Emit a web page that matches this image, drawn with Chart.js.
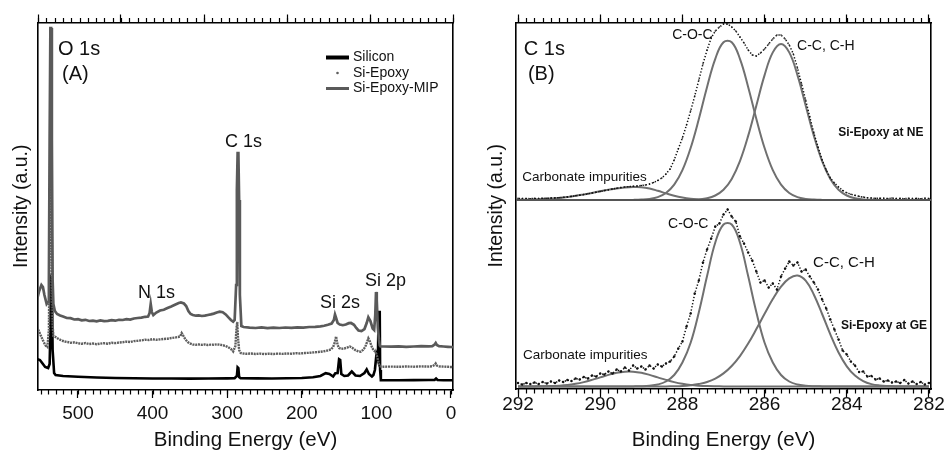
<!DOCTYPE html>
<html>
<head>
<meta charset="utf-8">
<script src="https://cdn.jsdelivr.net/npm/chart.js@4.4.1/dist/chart.umd.min.js"></script>
<style>
  body { margin: 0; background: #fff; width: 946px; height: 451px; overflow: hidden; position: relative; }
  #panelA { position: absolute; left: 0; top: 0; }
  #panelB { position: absolute; left: 476px; top: 0; }
</style>
</head>
<body>
<canvas id="panelA" width="470" height="451"></canvas>
<canvas id="panelB" width="470" height="451"></canvas>
<script>
// (A) survey spectra, binding energy (eV) / intensity (a.u.)
const siliconE = [555, 551, 548, 544, 540, 538, 537, 536, 535, 534,
  532, 530, 520, 500, 475, 450, 425, 400, 375, 350,
  325, 300, 290, 287, 286, 285, 284, 282, 260, 240,
  220, 200, 185, 175, 168, 163, 158, 155, 152, 150,
  148.5, 147, 143, 138, 133, 128, 122, 116, 113, 110,
  106, 104, 102, 100, 98, 97, 95.5, 95, 94, 90,
  70, 50, 30, 22, 20, 18, 10, 0, -3]
const siliconI = [31, 30, 27, 23, 22, 26, 60, 110, 108, 40,
  17, 15, 14, 13.3, 12.5, 12, 11.8, 11.5, 11.5, 11.4,
  11.5, 11.6, 11.8, 14, 22.7, 22, 13, 11.7, 11.6, 11.5,
  11.8, 12, 12.8, 14, 16.8, 16, 13.5, 16.7, 17, 30.7,
  30, 16, 14, 14.5, 18.5, 14.5, 14, 17, 20.5, 16,
  13.5, 15, 20, 35, 30, 78, 78, 20, 9.8, 9.8,
  9.8, 9.9, 10, 10, 11.5, 10, 9.8, 9.8, 9.8]

const epoxyE = [555, 552, 549, 546, 543, 541, 539, 538, 537, 536,
  535, 534, 533, 530, 526, 522, 518, 514, 510, 505,
  500, 495, 490, 485, 480, 475, 470, 465, 460, 455,
  450, 445, 440, 435, 430, 425, 420, 415, 410, 405,
  400, 395, 390, 385, 380, 375, 370, 366, 363, 361,
  359, 356, 353, 350, 346, 342, 338, 334, 330, 326,
  322, 318, 314, 310, 306, 302, 298, 295, 292, 289,
  287.5, 286.5, 285.5, 284, 282, 280, 274, 268, 262, 256,
  250, 244, 238, 232, 226, 220, 214, 208, 202, 196,
  190, 184, 178, 172, 166, 161, 158, 156, 154, 152,
  150, 147, 143, 139, 135.5, 132, 128, 124, 121, 118,
  115, 112.5, 110.8, 109, 106, 104, 102, 100, 98.5, 97,
  95.5, 94, 90, 80, 70, 60, 50, 40, 30, 25,
  22, 20.5, 19, 16, 10, 4, 0, -3]
const epoxyI = [63, 58, 53, 48, 44, 43, 60, 150, 260, 260,
  150, 65, 54, 53, 51, 49.5, 48.5, 48, 47.2, 47.6,
  46.8, 46.2, 46.9, 46, 46.5, 45.8, 46.4, 46.8, 46.3, 47.2,
  46.9, 47.5, 47.8, 48.4, 48, 48.9, 49.2, 49.6, 50.3, 50,
  50.8, 50.2, 50.6, 51, 51.3, 52, 52.4, 53, 53.6, 57,
  54.5, 50.5, 48, 46.5, 45.5, 45.2, 45.6, 45.1, 45.5, 45,
  45.4, 45.2, 45.6, 45.3, 44.8, 44, 42.5, 41, 38.5, 44,
  62, 68, 52, 40, 37, 36.6, 36.2, 36.5, 36, 36.4,
  35.9, 36.3, 36, 36.4, 36.1, 36.5, 36.3, 36.8, 36.5, 37,
  37.2, 37.6, 38, 38.5, 39.4, 40.5, 43, 47, 53.5, 45,
  42, 41.2, 41.5, 42.5, 43.5, 42, 39.8, 38.5, 38.3, 40,
  43, 48, 51.7, 49, 43, 40, 38.5, 36, 32, 27,
  24, 23.4, 23.3, 23.4, 23.2, 23.5, 23.3, 23.6, 23.4, 23.8,
  25, 26.5, 24.5, 23.6, 23.4, 23.2, 23, 23]

const mipE = [555, 552, 549, 547, 545, 542, 540, 539, 538, 537,
  536, 535, 534, 533, 531, 528, 524, 520, 515, 510,
  505, 500, 495, 490, 485, 480, 475, 470, 465, 460,
  455, 450, 445, 440, 435, 430, 425, 420, 415, 410,
  406, 404, 402.5, 401, 399, 395, 390, 385, 380, 375,
  370, 365, 362, 358, 355, 352, 349, 346, 342, 338,
  334, 330, 326, 322, 318, 314, 310, 306, 302, 298,
  295, 292, 290, 288, 287, 286, 285, 284, 283, 281,
  278, 270, 262, 254, 246, 238, 230, 222, 214, 206,
  198, 190, 182, 175, 170, 165, 160, 157, 155.5, 154,
  152, 149, 145, 141, 137, 134, 130, 127, 124, 120,
  116, 113, 110.8, 108, 105, 103, 101.5, 100.5, 99.5, 98,
  96.5, 95.5, 94.5, 90, 80, 70, 60, 50, 40, 30,
  25, 22, 20.5, 19, 16, 10, 4, 0, -3]
const mipI = [90, 99, 105, 103, 95, 86, 88, 110, 250, 362,
  362, 250, 110, 86, 79, 76, 74.5, 73.5, 72, 71.8,
  70.5, 70.8, 69.6, 70.2, 69, 69.4, 68.6, 69.5, 68.8, 69.2,
  69.8, 69.3, 70.2, 70, 70.8, 70.4, 71.5, 72, 72.4, 73.2,
  73.5, 77, 86, 78, 75, 77.5, 79.5, 80.3, 82, 83.5,
  85.2, 87, 87.6, 86.5, 84, 79, 76, 75, 74.3, 74.6,
  74, 74.4, 75, 75.6, 76.4, 77.5, 78.4, 77.8, 75.6, 72.3,
  70, 68.3, 70, 105, 200, 237, 237, 190, 95, 64,
  63, 62.4, 62, 62.6, 61.8, 62.3, 62, 62.5, 62.1, 62.7,
  62.4, 63, 63.2, 63.6, 64.2, 65.3, 66.5, 70, 75.5, 72,
  67, 65.5, 64.8, 65.5, 66.8, 67, 65.2, 62, 59.5, 59,
  61, 67, 72.7, 69, 61.5, 60, 75, 98, 90, 62,
  50, 44.5, 43.6, 43.5, 43.3, 43.6, 43.2, 43.5, 43.8, 43.6,
  43.9, 45.5, 47, 45, 43.8, 43.5, 43.2, 43, 42.8]

// (B) C 1s region: fitted components on a 0.2 eV grid
const fitE = [282.0, 282.2, 282.4, 282.6, 282.8, 283.0, 283.2, 283.4, 283.6, 283.8,
  284.0, 284.2, 284.4, 284.6, 284.8, 285.0, 285.2, 285.4, 285.6, 285.8,
  286.0, 286.2, 286.4, 286.6, 286.8, 287.0, 287.2, 287.4, 287.6, 287.8,
  288.0, 288.2, 288.4, 288.6, 288.8, 289.0, 289.2, 289.4, 289.6, 289.8,
  290.0, 290.2, 290.4, 290.6, 290.8, 291.0, 291.2, 291.4, 291.6, 291.8, 292.0]
// Si-Epoxy at NE
const cocNE = [0, 0, 0, 0, 0, 0, 0, 0, 0, 0,
  0, 0, 0, 0.1, 0.4, 1.1, 2.9, 7.0, 15.3, 29.8,
  52.0, 81.0, 113.1, 141.2, 157.8, 157.8, 141.2, 113.1, 81.0, 52.0,
  29.8, 15.3, 7.0, 2.9, 1.1, 0.4, 0.1, 0, 0, 0,
  0, 0, 0, 0, 0, 0, 0, 0, 0, 0, 0]
const ccNE = [0, 0, 0, 0, 0, 0, 0, 0.2, 0.6, 1.7,
  4.5, 10.2, 21.1, 38.9, 64.1, 94.6, 124.9, 147.6, 156, 147.6,
  124.9, 94.6, 64.1, 38.9, 21.1, 10.2, 4.5, 1.7, 0.6, 0.2,
  0, 0, 0, 0, 0, 0, 0, 0, 0, 0,
  0, 0, 0, 0, 0, 0, 0, 0, 0, 0, 0]
const carbNE = [0, 0, 0, 0, 0, 0, 0, 0, 0, 0,
  0, 0, 0, 0, 0, 0, 0, 0, 0, 0,
  0, 0, 0, 0, 0, 0, 0, 0.2, 0.6, 1.2,
  2.4, 4.2, 6.6, 9.2, 11.5, 12.8, 12.9, 12.4, 11.5, 10.2,
  8.7, 7.1, 5.6, 4.2, 3.1, 2.1, 1.4, 0.9, 0.6, 0.3, 0.2]
// Si-Epoxy at GE
const cocGE = [0, 0, 0, 0, 0, 0, 0, 0, 0, 0,
  0, 0, 0, 0.1, 0.3, 0.8, 2, 5, 11.5, 24,
  43.8, 74.3, 110.4, 144, 162, 162, 144, 110.4, 74.3, 43.8,
  24, 11.5, 5, 2, 0.8, 0.3, 0.1, 0, 0, 0,
  0, 0, 0, 0, 0, 0, 0, 0, 0, 0, 0]
const ccGE = [0, 0, 0, 0, 0.1, 0.4, 1.0, 2.4, 5.4, 10.9,
  20.2, 34.0, 52.1, 72.5, 91.8, 105.9, 111, 108.1, 99.9, 87.5,
  72.7, 57.4, 42.9, 30.4, 20.5, 13.1, 7.9, 4.5, 2.5, 1.3,
  0.6, 0.3, 0.1, 0, 0, 0, 0, 0, 0, 0,
  0, 0, 0, 0, 0, 0, 0, 0, 0, 0, 0]
const carbGE = [0, 0, 0, 0, 0, 0, 0, 0, 0, 0,
  0, 0, 0, 0, 0, 0, 0, 0, 0, 0,
  0, 0, 0, 0, 0, 0.1, 0.2, 0.4, 0.8, 1.5,
  2.7, 4.4, 6.6, 9.1, 11.6, 13.7, 14.8, 14.8, 13.7, 11.6,
  9.1, 6.6, 4.4, 2.7, 1.5, 0.8, 0.4, 0.2, 0.1, 0, 0]

// measured points, 0.1 eV step
const rawE = [282.0, 282.1, 282.2, 282.3, 282.4, 282.5, 282.6, 282.7, 282.8, 282.9,
  283.0, 283.1, 283.2, 283.3, 283.4, 283.5, 283.6, 283.7, 283.8, 283.9,
  284.0, 284.1, 284.2, 284.3, 284.4, 284.5, 284.6, 284.7, 284.8, 284.9,
  285.0, 285.1, 285.2, 285.3, 285.4, 285.5, 285.6, 285.7, 285.8, 285.9,
  286.0, 286.1, 286.2, 286.3, 286.4, 286.5, 286.6, 286.7, 286.8, 286.9,
  287.0, 287.1, 287.2, 287.3, 287.4, 287.5, 287.6, 287.7, 287.8, 287.9,
  288.0, 288.1, 288.2, 288.3, 288.4, 288.5, 288.6, 288.7, 288.8, 288.9,
  289.0, 289.1, 289.2, 289.3, 289.4, 289.5, 289.6, 289.7, 289.8, 289.9,
  290.0, 290.1, 290.2, 290.3, 290.4, 290.5, 290.6, 290.7, 290.8, 290.9,
  291.0, 291.1, 291.2, 291.3, 291.4, 291.5, 291.6, 291.7, 291.8, 291.9, 292.0]
const rawNE = [1.5, 1.8, 1.2, 1.6, 1.4, 1.7, 1.3, 1.6, 1.5, 1.9,
  1.4, 1.7, 1.8, 1.6, 2.0, 2.3, 2.9, 3.6, 4.6, 5.8,
  7.2, 9.5, 13, 17, 22, 30, 40, 53, 67, 83,
  100, 116, 132, 146, 155, 161, 165, 165, 161, 156,
  151, 147, 144, 145, 150, 157, 163, 169, 173, 176,
  176, 173, 169, 162, 150, 136, 120, 104, 89, 75,
  62, 51, 40, 31, 26, 22, 19.5, 17.5, 16, 15,
  14.5, 14, 13.8, 13.3, 13, 12.4, 11.8, 11, 10.2, 9.4,
  8.6, 7.8, 7, 6.2, 5.5, 4.8, 4.2, 3.6, 3.1, 2.7,
  2.4, 2.1, 1.9, 1.7, 1.8, 1.5, 1.6, 1.3, 1.5, 1.4, 1.6]
const rawGE = [3.5, 2.0, 4.5, 2.5, 5.0, 3.0, 6.5, 3.5, 5.0, 4.0,
  6.0, 5.0, 8.0, 7.0, 10.5, 10.0, 15.0, 14.5, 21, 25,
  32, 36, 47, 57, 67, 78, 87, 97, 104, 110,
  117, 115, 124, 121, 125, 118, 110, 97, 103, 99,
  106, 104, 115, 126, 134, 143, 150, 165, 170, 177,
  172, 163, 160, 148, 137, 124, 106, 93, 73, 60,
  45, 38, 30, 25, 23, 20, 22, 18, 21, 17,
  20, 18, 21, 16, 19, 15, 17, 13, 15, 12,
  13, 10, 11, 8, 9.5, 7, 8, 5.5, 6.5, 4.5,
  6, 3.5, 5, 3, 4.5, 2.5, 4, 2.5, 3.5, 2, 3.5]

const baseNE = 189   // upper spectrum sits on this level
const baseGE = 2.5

const pts = (xs, ys, shift = 0) => xs.map((x, i) => ({x: x, y: ys[i] + shift}))

const sans = "'Liberation Sans', Arial, sans-serif"

// small tick marks between the labelled ones
const minorTicks = {
  id: 'minorTicks',
  afterDraw(chart, args, opts) {
    const ctx = chart.ctx
    ctx.save()
    ctx.strokeStyle = '#000'
    ctx.lineWidth = 1.2
    for (const id in opts.steps) {
      const s = chart.scales[id]
      const step = opts.steps[id]
      const lo = Math.ceil(Math.min(s.min, s.max) / step - 1e-6)
      const hi = Math.floor(Math.max(s.min, s.max) / step + 1e-6)
      for (let k = lo; k <= hi; k++) {
        const x = Math.round(s.getPixelForValue(k * step)) + 0.5
        const y0 = s.position === 'top' ? s.bottom : s.top
        const y1 = s.position === 'top' ? y0 - opts.length : y0 + opts.length
        ctx.beginPath()
        ctx.moveTo(x, y0)
        ctx.lineTo(x, y1)
        ctx.stroke()
      }
    }
    ctx.restore()
  }
}

// peak labels, legend and divider
const notes = {
  id: 'notes',
  afterDatasetsDraw(chart, args, opts) {
    const {ctx, scales: {x, y}, chartArea} = chart
    ctx.save()
    if (opts.divider !== undefined) {
      ctx.strokeStyle = '#555'
      ctx.lineWidth = 2
      const py = y.getPixelForValue(opts.divider)
      ctx.beginPath()
      ctx.moveTo(chartArea.left, py)
      ctx.lineTo(chartArea.right, py)
      ctx.stroke()
    }
    ctx.fillStyle = '#111'
    ctx.textAlign = 'left'
    ctx.textBaseline = 'alphabetic'
    for (const n of opts.items) {
      ctx.font = n.font
      ctx.fillText(n.text, x.getPixelForValue(n.x), y.getPixelForValue(n.y))
    }
    if (opts.legend) {
      const lg = opts.legend
      ctx.font = lg.font
      ctx.textBaseline = 'middle'
      lg.rows.forEach((r, i) => {
        const ds = chart.data.datasets[r.index]
        const cy = lg.y + i * lg.gap
        if (r.kind === 'line') {
          ctx.strokeStyle = ds.borderColor
          ctx.lineWidth = r.width
          ctx.beginPath()
          ctx.moveTo(lg.x, cy)
          ctx.lineTo(lg.x + lg.len, cy)
          ctx.stroke()
        } else {
          ctx.fillStyle = ds.borderColor
          ctx.beginPath()
          ctx.arc(lg.x + lg.len / 2, cy, 1.3, 0, Math.PI * 2)
          ctx.fill()
        }
        ctx.fillStyle = '#111'
        ctx.fillText(ds.label, lg.x + lg.len + 4, cy)
      })
    }
    ctx.restore()
  }
}

function frameScales(o) {
  const border = {display: true, color: '#000', width: 1.6}
  const grid = {drawOnChartArea: false, tickLength: 8, tickColor: '#000', tickWidth: 1.2}
  return {
    x: {
      type: 'linear', position: 'bottom', reverse: true, min: o.xmin, max: o.xmax,
      ticks: {stepSize: o.step, includeBounds: false, autoSkip: false, maxRotation: 0,
        color: '#111', padding: o.tickPad, font: {family: sans, size: 19}},
      grid: grid, border: border,
      title: {display: true, text: 'Binding Energy (eV)', color: '#111',
        font: {family: sans, size: 20.5}, padding: {top: 0, bottom: -2}},
      afterFit: s => { s.height = o.bottomH }
    },
    x2: {
      type: 'linear', position: 'top', reverse: true, min: o.topMin, max: o.topMax,
      ticks: {display: false, stepSize: o.step, includeBounds: false, autoSkip: false},
      grid: grid, border: border,
      afterFit: s => { s.height = 22.5 }
    },
    y: {
      type: 'linear', position: 'left', min: 0, max: o.ymax,
      ticks: {display: false}, grid: {display: false}, border: border,
      title: {display: true, text: 'Intensity (a.u.)', color: '#111',
        font: {family: sans, size: 19.5}, padding: {top: o.titlePad, bottom: 0}},
      afterFit: s => { s.width = o.leftW }
    },
    y2: {
      type: 'linear', position: 'right', min: 0, max: o.ymax,
      ticks: {display: false}, grid: {display: false}, border: border,
      afterFit: s => { s.width = o.rightW }
    }
  }
}

const line = (label, xs, ys, color, width, extra) => Object.assign({
  label: label, data: pts(xs, ys), showLine: true, borderColor: color,
  backgroundColor: color, borderWidth: width, pointRadius: 0, tension: 0
}, extra || {})

new Chart(document.getElementById('panelA'), {
  type: 'scatter',
  data: {
    datasets: [
      line('Si-Epoxy-MIP', mipE, mipI, '#5a5a5a', 2.7),
      line('Si-Epoxy', epoxyE, epoxyI, '#5e5e5e', 2.4, {borderDash: [2, 0.8]}),
      line('Silicon', siliconE, siliconI, '#000', 2.6)
    ]
  },
  options: {
    responsive: false, animation: false,
    layout: {padding: 0},
    scales: frameScales({xmin: -2.7, xmax: 553.6, step: 100, topMin: 0, topMax: 500,
      ymax: 367.5, bottomH: 61, leftW: 38, rightW: 17, titlePad: 10, tickPad: 4}),
    plugins: {
      legend: {display: false}, tooltip: {enabled: false},
      minorTicks: {steps: {x: 10, x2: 10}, length: 4.5},
      notes: {
        items: [
          {text: 'O 1s', x: 526.8, y: 335, font: '20px ' + sans},
          {text: '(A)', x: 521.4, y: 310, font: '20px ' + sans},
          {text: 'C 1s', x: 302.9, y: 243, font: '18px ' + sans},
          {text: 'N 1s', x: 419.6, y: 92, font: '18px ' + sans},
          {text: 'Si 2s', x: 175.6, y: 82, font: '18px ' + sans},
          {text: 'Si 2p', x: 115.3, y: 104, font: '18px ' + sans}
        ],
        legend: {x: 326, y: 57.5, gap: 15.5, len: 23, font: '14px ' + sans, rows: [
          {index: 2, kind: 'line', width: 4},
          {index: 1, kind: 'dot'},
          {index: 0, kind: 'line', width: 3}
        ]}
      }
    }
  },
  plugins: [minorTicks, notes]
})

const fit = (ys, shift) => ({
  data: pts(fitE, ys, shift), showLine: true, borderColor: '#707070', borderWidth: 2,
  pointRadius: 0, tension: 0.4
})
const dots = (ys, shift, r) => ({
  data: pts(rawE, ys, shift), showLine: true, borderColor: '#111', borderWidth: 1.5,
  borderDash: [1.3, 1.9], pointRadius: r, pointBorderWidth: 0, pointBackgroundColor: '#111'
})

new Chart(document.getElementById('panelB'), {
  type: 'scatter',
  data: {
    datasets: [
      dots(rawNE, baseNE, 0.8), fit(cocNE, baseNE), fit(ccNE, baseNE), fit(carbNE, baseNE),
      dots(rawGE, baseGE, 1.2), fit(cocGE, baseGE), fit(ccGE, baseGE), fit(carbGE, baseGE)
    ]
  },
  options: {
    responsive: false, animation: false,
    layout: {padding: 0},
    scales: frameScales({xmin: 281.95, xmax: 292.05, step: 2, topMin: 281.95, topMax: 292.05,
      ymax: 366.5, bottomH: 62, leftW: 40, rightW: 15, titlePad: 9, tickPad: -4}),
    plugins: {
      legend: {display: false}, tooltip: {enabled: false},
      minorTicks: {steps: {x: 0.2, x2: 0.2}, length: 4.5},
      notes: {
        divider: baseNE,
        items: [
          {text: 'C 1s', x: 291.86, y: 334, font: '20px ' + sans},
          {text: '(B)', x: 291.76, y: 309, font: '20px ' + sans},
          {text: 'C-O-C', x: 288.25, y: 350.5, font: '14px ' + sans},
          {text: 'C-C, C-H', x: 285.21, y: 339, font: '14px ' + sans},
          {text: 'Si-Epoxy at NE', x: 284.21, y: 253, font: 'bold 12px ' + sans},
          {text: 'Carbonate impurities', x: 291.9, y: 208, font: '13.5px ' + sans},
          {text: 'C-O-C', x: 288.35, y: 161, font: '14px ' + sans},
          {text: 'C-C, C-H', x: 284.82, y: 122.5, font: '15px ' + sans},
          {text: 'Si-Epoxy at GE', x: 284.14, y: 60, font: 'bold 12px ' + sans},
          {text: 'Carbonate impurities', x: 291.88, y: 30, font: '13.5px ' + sans}
        ]
      }
    }
  },
  plugins: [minorTicks, notes]
})
</script>
</body>
</html>
